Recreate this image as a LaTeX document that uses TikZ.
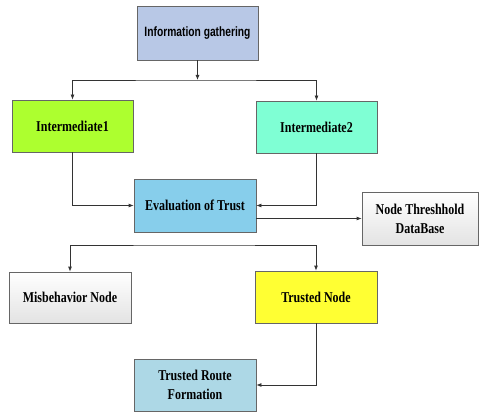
\documentclass[tikz,border=0pt]{standalone}
\usepackage{fontspec}
\newfontfamily\serifc[FakeStretch=0.80]{Liberation Serif}
\newfontfamily\sansc[FakeStretch=0.76]{Liberation Sans}
\usetikzlibrary{arrows.meta,shadows}
\definecolor{infoc}{HTML}{B8C8E6}
\definecolor{imone}{HTML}{ADFF2F}
\definecolor{imtwo}{HTML}{7FFFD4}
\definecolor{evalc}{HTML}{87CEEB}
\definecolor{trustc}{HTML}{FFFF33}
\definecolor{trfc}{HTML}{ADD8E6}
\definecolor{linec}{HTML}{333333}
\tikzset{
  box/.style={draw=gray!80!black, line width=0.8pt, minimum width=121pt, minimum height=52pt,
    inner sep=2pt, align=center,
    font=\serifc\bfseries\fontsize{15}{19}\selectfont,
    drop shadow={shadow xshift=1.2pt, shadow yshift=-1.2pt, opacity=0.35, fill=gray}},
  greybox/.style={box, top color=white, bottom color=gray!22},
  conn/.style={draw=linec, line width=0.8pt},
  tip/.tip={Latex[length=5pt,width=4pt]}
}
\begin{document}
\begin{tikzpicture}[x=1pt,y=-1pt]
\useasboundingbox (0,0) rectangle (480,412);
\node[box, fill=infoc, minimum height=54pt, font=\sansc\bfseries\fontsize{13.5}{16}\selectfont] (info) at (197.5,33) {Information gathering};
\node[box, fill=imone] (im1) at (72.5,126) {Intermediate1};
\node[box, fill=imtwo] (im2) at (316.5,127) {Intermediate2};
\node[box, fill=evalc, minimum width=122pt, minimum height=53pt] (eval) at (195,205.5) {Evaluation of Trust};
\node[greybox, minimum width=116pt, minimum height=53pt] (nt) at (420,218.5) {Node Threshhold\\DataBase};
\node[greybox, minimum width=122pt, minimum height=51pt] (misb) at (70,297.5) {Misbehavior Node};
\node[box, fill=trustc, minimum width=122pt] (trusted) at (316,297) {Trusted Node};
\node[box, fill=trfc, minimum width=122pt] (trf) at (195,385) {Trusted Route\\Formation};
\coordinate (jtop) at (197.5,80);
\coordinate (jmid) at (195,245);
\draw[conn,-tip] (info.south) -- (jtop);
\draw[conn,tip-tip] (im1.north) |- (jtop) -| (im2.north);
\draw[conn,-tip] (im1.south) |- (eval.west);
\draw[conn,-tip] (im2.south) |- (eval.east);
\draw[conn,-tip] (eval.east |- nt.west) -- (nt.west);
\draw[conn,tip-tip] (misb.north) |- (jmid) -| (trusted.north);
\draw[conn,-tip] (trusted.south) |- (trf.east);
\end{tikzpicture}
\end{document}
